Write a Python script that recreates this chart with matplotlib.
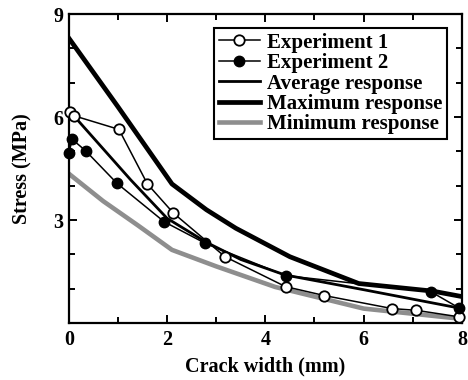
import numpy as np
import matplotlib
matplotlib.use("Agg")
import matplotlib.pyplot as plt
from matplotlib.ticker import MultipleLocator

plt.rcParams['font.family'] = ['Liberation Serif', 'DejaVu Serif']
plt.rcParams['font.weight'] = 'bold'

# measured points, experiment 1 (open circles)
exp1_w = [0.02, 0.1, 1.02, 1.6, 2.13, 3.18, 4.41, 5.2, 6.58, 7.07, 7.94]
exp1_s = [6.15, 6.04, 5.64, 4.05, 3.2, 1.93, 1.06, 0.8, 0.42, 0.37, 0.18]

# measured points, experiment 2 (filled circles)
exp2_w = [0.0, 0.07, 0.34, 0.98, 1.94, 2.78, 4.41, 7.37, 7.94]
exp2_s = [4.94, 5.35, 5.02, 4.07, 2.95, 2.32, 1.38, 0.91, 0.44]

# model curves
avg_w = [0.1, 1.26, 2.0, 2.8, 3.5, 4.4, 6.0, 8.0]
avg_s = [6.04, 4.17, 3.05, 2.35, 1.85, 1.4, 0.97, 0.42]

max_w = [0.0, 1.0, 2.1, 2.8, 3.4, 4.5, 5.9, 7.4, 8.0]
max_s = [8.3, 6.3, 4.05, 3.3, 2.76, 1.93, 1.15, 0.93, 0.77]

min_w = [0.0, 0.7, 1.4, 2.1, 3.0, 4.2, 6.0, 8.0]
min_s = [4.35, 3.55, 2.85, 2.13, 1.65, 1.05, 0.42, 0.12]

fig = plt.figure(figsize=(4.68, 3.8), dpi=100)
ax = fig.add_axes([0.147, 0.15, 0.84, 0.813])

ax.plot(exp1_w, exp1_s, '-o', color='black', lw=1.1, ms=7.5, mfc='white',
        mec='black', mew=1.3, clip_on=False, zorder=5, label='Experiment 1')
ax.plot(exp2_w, exp2_s, '-o', color='black', lw=1.1, ms=7.5, mfc='black',
        mec='black', clip_on=False, zorder=5, label='Experiment 2')
ax.plot(avg_w, avg_s, color='black', lw=2.0, zorder=3, label='Average response')
ax.plot(max_w, max_s, color='black', lw=3.4, zorder=3, label='Maximum response')
ax.plot(min_w, min_s, color='#8e8e8e', lw=3.3, zorder=2, label='Minimum response')

ax.set_xlim(0, 8)
ax.set_ylim(0, 9)
ax.xaxis.set_major_locator(MultipleLocator(2))
ax.xaxis.set_minor_locator(MultipleLocator(1))
ax.yaxis.set_minor_locator(MultipleLocator(1))
ax.set_yticks([3, 6, 9])
ax.set_yticklabels(['3', '6', '9'])

ax.tick_params(which='both', direction='in', top=True, right=True, width=1.4,
               labelsize=14.5)
ax.tick_params(axis='x', pad=5)
ax.tick_params(axis='y', pad=4)
ax.tick_params(which='major', length=6)
ax.tick_params(which='minor', length=4)
for s in ax.spines.values():
    s.set_linewidth(1.6)

ax.set_xlabel('Crack width (mm)', fontsize=14.5, fontweight='bold', labelpad=5)
ax.set_ylabel('Stress (MPa)', fontsize=14.5, fontweight='bold', labelpad=15)

leg = ax.legend(loc='upper right', bbox_to_anchor=(0.955, 0.926),
                bbox_transform=fig.transFigure, borderaxespad=0,
                frameon=True, fancybox=False, edgecolor='black',
                framealpha=1, handlelength=1.95, handletextpad=0.35,
                labelspacing=0.02, borderpad=0.22,
                prop={'weight': 'bold', 'size': 15})
leg.get_frame().set_linewidth(1.5)

fig.savefig('out.png', dpi=100)
